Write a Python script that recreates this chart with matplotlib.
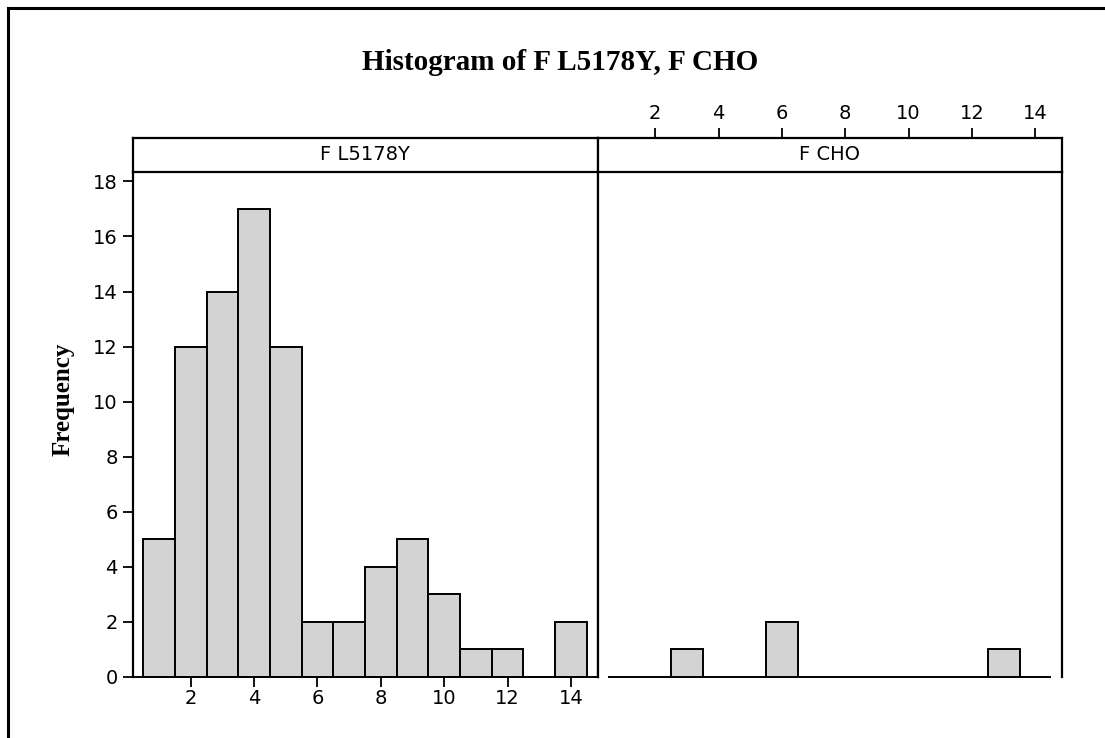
import numpy as np
import matplotlib
matplotlib.use("Agg")
from matplotlib import pyplot as plt
from matplotlib.lines import Line2D

# bin midpoints (width 1) and counts per panel
bin_mid = [1, 2, 3, 4, 5, 6, 7, 8, 9, 10, 11, 12, 13, 14]
count_l5178y = [5, 12, 14, 17, 12, 2, 2, 4, 5, 3, 1, 1, 0, 2]
count_cho = [0, 0, 1, 0, 0, 2, 0, 0, 0, 0, 0, 0, 1, 0]
panel_names = ["F L5178Y", "F CHO"]
x_ticks = [2, 4, 6, 8, 10, 12, 14]
y_ticks = [0, 2, 4, 6, 8, 10, 12, 14, 16, 18]

W, H = 1105, 738
fig = plt.figure(figsize=(W / 100, H / 100), dpi=100)
plt.rcParams['font.family'] = ['DejaVu Sans']

def box(x0, y0, x1, y1):
    # pixel box (top-left origin) -> figure fraction rect
    return [x0 / W, 1 - y1 / H, (x1 - x0) / W, (y1 - y0) / H]

# outer frame, only top and left edges are visible
fig.add_artist(Line2D([8 / W, 1], [1 - 7.5 / H, 1 - 7.5 / H], color='black', lw=2.2))
fig.add_artist(Line2D([8 / W, 8 / W], [0, 1 - 7.5 / H], color='black', lw=2.2))

fig.text(560 / W, 1 - 62 / H, "Histogram of F L5178Y, F CHO", ha='center', va='center',
         fontsize=21, fontweight='bold', family='Liberation Serif')
fig.text(63 / W, 1 - 399 / H, "Frequency", ha='center', va='center', rotation=90,
         fontsize=18, fontweight='bold', family='Liberation Serif')

x_edges = [(133, 597.5), (597.5, 1062)]
tick_font = 14

for k, counts in enumerate([count_l5178y, count_cho]):
    x0, x1 = x_edges[k]
    ax = fig.add_axes(box(x0, 172, x1, 677))
    bars = ax.bar(bin_mid, counts, width=1.0, color='#d3d3d3', edgecolor='black', linewidth=1.4)
    for b in bars:
        b.set_clip_on(False)
    ax.set_xlim(0.18, 14.84)
    ax.set_ylim(0, 18.34)
    ax.set_xticks(x_ticks)
    ax.tick_params(direction='out', length=7, width=1.3, labelsize=tick_font, pad=4)
    ax.tick_params(axis='x', pad=2)
    for s in ax.spines.values():
        s.set_linewidth(1.6)
    ax.spines['top'].set_visible(False)
    if k == 0:
        ax.set_yticks(y_ticks)
        ax.spines['bottom'].set_linewidth(1.4)
    else:
        ax.set_yticks([])
        ax.spines['bottom'].set_visible(False)
        ax.xaxis.set_ticks_position('none')
        ax.set_xticklabels([])

    # strip header above each panel
    sx = fig.add_axes(box(x0, 138, x1, 172))
    sx.set_xlim(0.18, 14.84)
    sx.set_ylim(0, 1)
    sx.set_yticks([])
    for s in sx.spines.values():
        s.set_linewidth(1.6)
    sx.text(0.5, 0.5, panel_names[k], transform=sx.transAxes, ha='center', va='center',
            fontsize=tick_font)
    if k == 1:
        sx.set_xticks(x_ticks)
        sx.xaxis.set_ticks_position('top')
        sx.tick_params(direction='out', length=7, width=1.3, labelsize=tick_font, pad=4)
    else:
        sx.set_xticks([])

fig.savefig("out.png", dpi=100)
